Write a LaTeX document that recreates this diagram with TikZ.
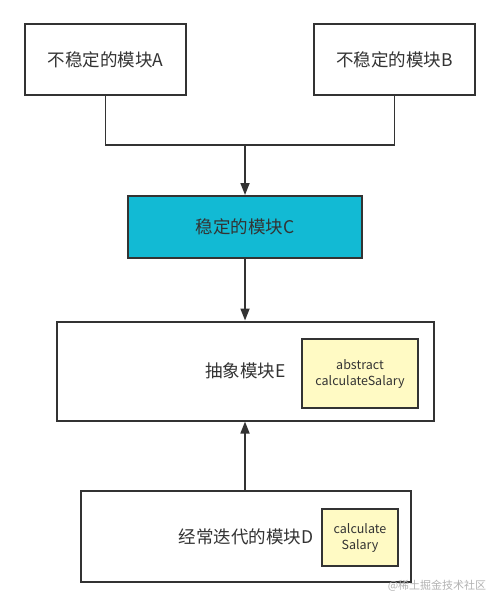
\documentclass[tikz,border=0pt]{standalone}
\usepackage{fontspec}
\setmainfont{Noto Sans CJK SC}
\usetikzlibrary{arrows.meta}
\definecolor{stablecyan}{RGB}{18,186,212}
\definecolor{notepale}{RGB}{255,250,196}
\definecolor{linegray}{RGB}{51,51,51}
\tikzset{
  modbox/.style={draw=linegray, line width=2pt, fill=white, inner sep=0pt, font=\fontsize{17.5}{20}\selectfont, text=black!80},
  notebox/.style={draw=linegray, line width=2pt, fill=notepale, inner sep=0pt, align=center, font=\fontsize{12.5}{16}\selectfont, text=black!80},
  link/.style={draw=linegray, line width=1.7pt},
  tip/.style={-{Triangle[length=12pt,width=9pt]}}
}
\begin{document}
\begin{tikzpicture}[x=1pt, y=-1pt]
    \useasboundingbox (0,0) rectangle (500,607);

    %unstable modules
    \node[modbox, minimum width=161, minimum height=71] (modA) at (105.5,60) {不稳定的模块A};
    \node[modbox, minimum width=161, minimum height=71] (modB) at (394.5,60) {不稳定的模块B};

    %stable module
    \node[modbox, fill=stablecyan, minimum width=234, minimum height=62] (modC) at (245,227) {稳定的模块C};

    %abstract module
    \node[modbox, minimum width=377, minimum height=99] (modE) at (245.5,371) {抽象模块E};
    \node[notebox, minimum width=116, minimum height=69] (noteE) at (360,373.5) {abstract\\calculateSalary};

    %iterated module
    \node[modbox, minimum width=330, minimum height=91] (modD) at (246,536.5) {经常迭代的模块D};
    \node[notebox, minimum width=76, minimum height=57] (noteD) at (360,537.5) {calculate\\Salary};

    %links
    \coordinate (join) at (245,145);
    \draw[link] (modA.south) |- (join);
    \draw[link] (modB.south) |- (join);
    \draw[link, tip] (join) -- (modC.north);
    \draw[link, tip] (modC.south) -- (modE.north -| modC.south);
    \draw[link, tip] (modD.north -| modC.south) -- (modE.south -| modC.south);

    %watermark
    \node[text=black!30, font=\fontsize{11}{12}\selectfont] (mark) at (437,586) {@稀土掘金技术社区};

\end{tikzpicture}
\end{document}
